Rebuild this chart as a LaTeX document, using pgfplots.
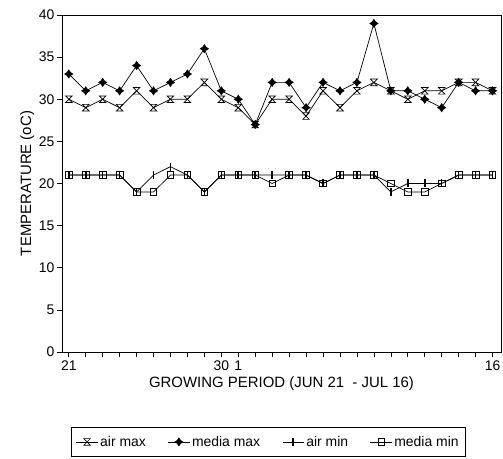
\documentclass[border=0pt]{standalone}
\usepackage{pgfplots}
\pgfplotsset{compat=1.18}
\usepackage{pgfplotstable}
\usepackage{fontspec}
\setmainfont{Liberation Sans}

\pgfdeclareplotmark{hourglass}{%
  \pgfpathmoveto{\pgfqpoint{-\pgfplotmarksize}{\pgfplotmarksize}}%
  \pgfpathlineto{\pgfqpoint{\pgfplotmarksize}{\pgfplotmarksize}}%
  \pgfpathlineto{\pgfqpoint{-\pgfplotmarksize}{-\pgfplotmarksize}}%
  \pgfpathlineto{\pgfqpoint{\pgfplotmarksize}{-\pgfplotmarksize}}%
  \pgfpathclose
  \pgfusepathqstroke}
\pgfdeclareplotmark{star4}{%
  \pgfpathmoveto{\pgfqpoint{0pt}{\pgfplotmarksize}}%
  \pgfpathlineto{\pgfqpoint{0.4\pgfplotmarksize}{0.4\pgfplotmarksize}}%
  \pgfpathlineto{\pgfqpoint{\pgfplotmarksize}{0pt}}%
  \pgfpathlineto{\pgfqpoint{0.4\pgfplotmarksize}{-0.4\pgfplotmarksize}}%
  \pgfpathlineto{\pgfqpoint{0pt}{-\pgfplotmarksize}}%
  \pgfpathlineto{\pgfqpoint{-0.4\pgfplotmarksize}{-0.4\pgfplotmarksize}}%
  \pgfpathlineto{\pgfqpoint{-\pgfplotmarksize}{0pt}}%
  \pgfpathlineto{\pgfqpoint{-0.4\pgfplotmarksize}{0.4\pgfplotmarksize}}%
  \pgfpathclose
  \pgfusepathqfillstroke}

\pgfplotstableread{
x airmax mediamax airmin mediamin
0  30 33 21 21
1  29 31 21 21
2  30 32 21 21
3  29 31 21 21
4  31 34 19 19
5  29 31 21 19
6  30 32 22 21
7  30 33 21 21
8  32 36 19 19
9  30 31 21 21
10 29 30 21 21
11 27 27 21 21
12 30 32 21 20
13 30 32 21 21
14 28 29 21 21
15 31 32 20 20
16 29 31 21 21
17 31 32 21 21
18 32 39 21 21
19 31 31 19 20
20 30 31 20 19
21 31 30 20 19
22 31 29 20 20
23 32 32 21 21
24 32 31 21 21
25 31 31 21 21
}\temps

\begin{document}
\begin{tikzpicture}
\path[use as bounding box] (0,0) rectangle (503bp,459bp);
\begin{axis}[
  at={(62bp,107bp)}, anchor=south west,
  scale only axis, width=439bp, height=337bp,
  xmin=-0.4, xmax=25.5, ymin=0, ymax=40,
  xtick={0,...,25},
  xticklabels={21,,,,,,,,,30,1,,,,,,,,,,,,,,,16},
  ytick={0,5,...,40},
  tick align=outside, tick pos=left,
  major tick length=5bp,
  axis line style={black, line width=0.8pt},
  tick style={black, line width=0.6pt},
  /pgf/number format/assume math mode=true,
  tick label style={font=\fontsize{14}{16}\selectfont},
  yticklabel style={xshift=1bp},
  xlabel={GROWING PERIOD (JUN 21 \ - JUL 16)},
  ylabel={TEMPERATURE (oC)},
  label style={font=\fontsize{15}{17}\selectfont},
  xlabel style={yshift=1bp},
  ylabel style={yshift=-2bp},
  legend columns=4,
  legend style={at={(0.47,-0.222)}, anchor=north, draw=black, line width=0.6pt,
    font=\fontsize{14}{16}\selectfont, /tikz/every even column/.append style={column sep=20bp},
    inner xsep=5bp, inner ysep=7bp},
  legend image code/.code={%
    \draw[mark repeat=2,mark phase=2] plot coordinates {(0cm,0cm) (0.38cm,0cm) (0.76cm,0cm)};},
  legend image post style={line width=0.6pt},
  every axis plot/.append style={black, line width=0.7pt},
]
\addplot[mark=hourglass, mark size=3.3bp, mark options={line width=0.7pt}] table[x=x,y=airmax] {\temps};
\addlegendentry{air max}
\addplot[mark=star4, mark size=4bp, mark options={fill=black}] table[x=x,y=mediamax] {\temps};
\addlegendentry{media max}
\addplot[mark=|, mark size=4bp, mark options={line width=1.6pt}] table[x=x,y=airmin] {\temps};
\addlegendentry{air min}
\addplot[mark=square, mark size=3.3bp, mark options={line width=0.7pt}] table[x=x,y=mediamin] {\temps};
\addlegendentry{media min}
\end{axis}
\end{tikzpicture}
\end{document}
